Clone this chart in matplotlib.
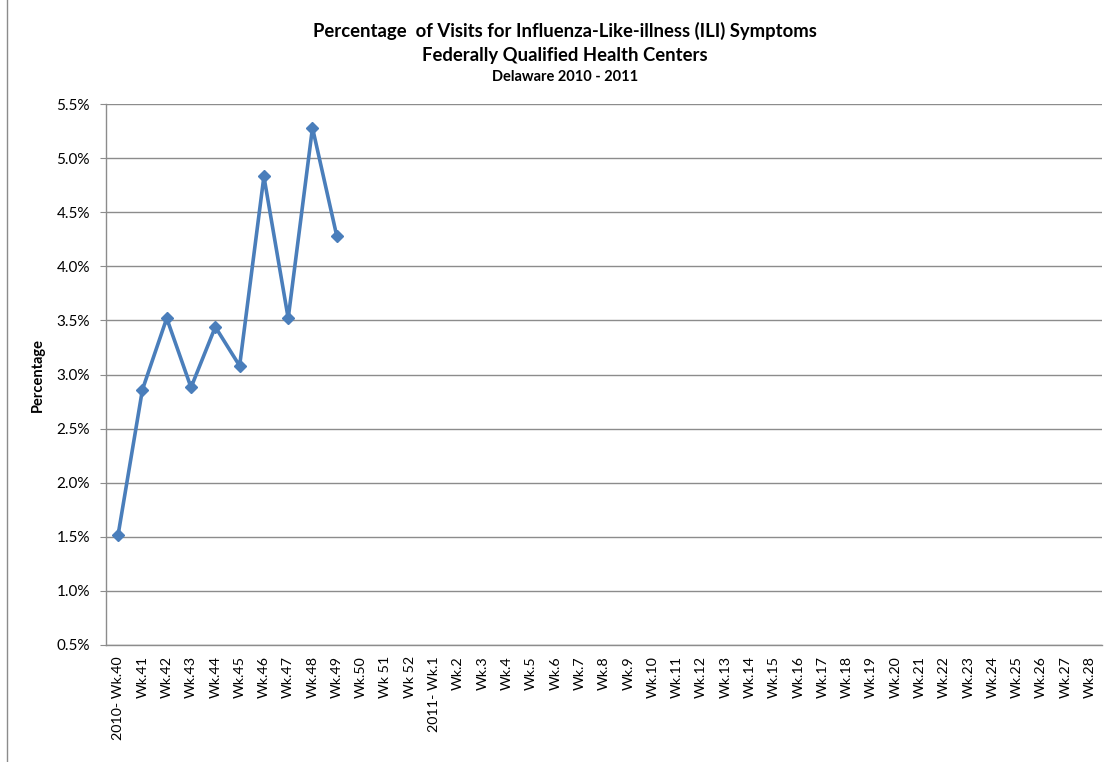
import matplotlib
matplotlib.use("Agg")
import matplotlib.pyplot as plt
from matplotlib.patches import Rectangle
from matplotlib.ticker import FuncFormatter, MultipleLocator

plt.rcParams['font.family'] = ['Lato', 'DejaVu Sans']

weeks_2010 = ["2010- Wk.40", "Wk.41", "Wk.42", "Wk.43", "Wk.44", "Wk.45", "Wk.46",
              "Wk.47", "Wk.48", "Wk.49", "Wk.50", "Wk 51", "Wk 52"]
weeks_2011 = ["2011- Wk.1"] + ["Wk.%d" % i for i in range(2, 29)]
categories = weeks_2010 + weeks_2011

ili_pct = [1.52, 2.86, 3.52, 2.88, 3.44, 3.08, 4.83, 3.52, 5.28, 4.28]

W, H = 1113, 762
fig = plt.figure(figsize=(W / 100, H / 100), dpi=100)
fig.patch.set_facecolor("white")
fig.patches.append(Rectangle((7 / W, -0.01), (W - 7) / W + 0.01, 1.02, transform=fig.transFigure,
                             fill=False, edgecolor="#8c8c8c", linewidth=1.0))

ax = fig.add_axes([106 / W, 1 - 645 / H, (1102 - 106) / W, (645 - 104) / H])
x = list(range(len(categories)))
ax.plot(x[:len(ili_pct)], ili_pct, color="#4A7EBB", linewidth=2.6, marker="D",
        markersize=6.5, markeredgecolor="#4A7EBB", markerfacecolor="#4A7EBB", zorder=3)

ax.set_xlim(-0.5, len(categories) - 0.5)
ax.set_ylim(0.5, 5.5)
ax.yaxis.set_major_locator(MultipleLocator(0.5))
ax.yaxis.set_major_formatter(FuncFormatter(lambda v, p: "%.1f%%" % v))
ax.grid(axis="y", color="#8c8c8c", linewidth=1.0)
ax.set_axisbelow(True)

ax.set_xticks(x)
ax.set_xticklabels(categories, rotation=90, fontsize=10.3, va="top", ha="center")
ax.tick_params(axis="x", length=0, pad=8)
ax.tick_params(axis="y", length=4, color="#8c8c8c", labelsize=11, pad=7.5, direction="out")

for s in ["top", "right"]:
    ax.spines[s].set_visible(False)
for s in ["left", "bottom"]:
    ax.spines[s].set_color("#8c8c8c")
    ax.spines[s].set_linewidth(1.0)

ax.set_ylabel("Percentage", fontsize=10.5, fontweight="bold")
ax.yaxis.set_label_coords((45 - 106) / (1102 - 106), 0.5)

fig.text(565 / W, 1 - 31 / H, "Percentage  of Visits for Influenza-Like-illness (ILI) Symptoms",
         ha="center", va="center", fontsize=13.3, fontweight="bold")
fig.text(565 / W, 1 - 56 / H, "Federally Qualified Health Centers",
         ha="center", va="center", fontsize=13.3, fontweight="bold")
fig.text(565 / W, 1 - 77 / H, "Delaware 2010 - 2011",
         ha="center", va="center", fontsize=10.5, fontweight="bold")

fig.savefig("out.png", dpi=100, facecolor="white")
